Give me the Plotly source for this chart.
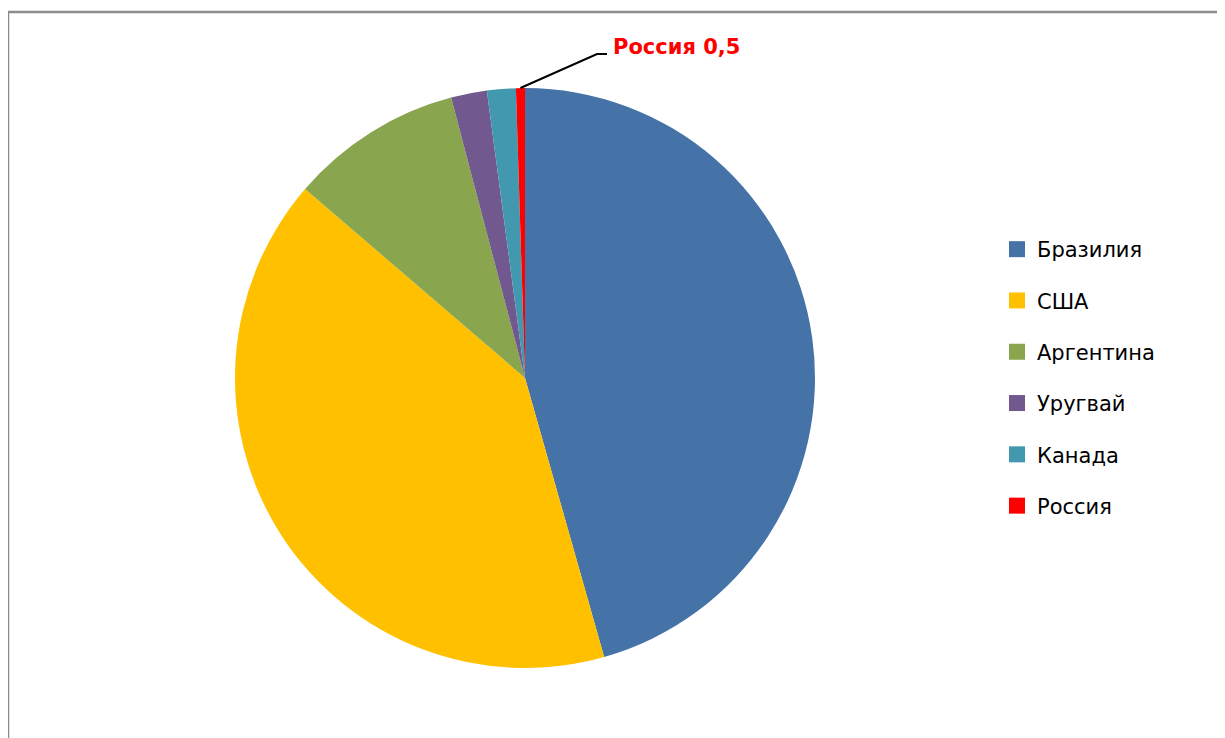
import math
import plotly.graph_objects as go

countries = ["Бразилия", "США", "Аргентина", "Уругвай", "Канада", "Россия"]
shares = [45.6, 40.7, 9.6, 2.0, 1.6, 0.5]
colors = ["#4572A7", "#FFC000", "#89A54E", "#71588F", "#4198AF", "#FF0000"]
label_text = "Россия 0,5"

W, H = 1225, 738
OFF = 8  # page body margin offset
cx, cy, r = 525 - OFF, 378 - OFF, 290

fig = go.Figure()
fig.add_trace(go.Pie(
    labels=countries, values=shares, sort=False, direction="clockwise", rotation=0,
    marker=dict(colors=colors, line=dict(width=0)),
    textinfo="none", hoverinfo="label+value", showlegend=False,
    domain=dict(x=[(cx - r) / W, (cx + r) / W], y=[1 - (cy + r) / H, 1 - (cy - r) / H]),
))

# legend entries
for i, (c, col) in enumerate(zip(countries, colors)):
    fig.add_trace(go.Scatter(
        x=[None], y=[None], mode="markers", name=c, legendgroup=str(i),
        marker=dict(symbol="square", size=16, color=col), showlegend=True,
    ))

# leader line for Russia
total = sum(shares)
cum = sum(shares[:-1])
theta = math.radians((cum + shares[-1] / 2) / total * 360)
px0 = cx + r * math.sin(theta)
py0 = cy - r * math.cos(theta)
pts = [(px0, py0), (597 - OFF, 54 - OFF), (607 - OFF, 54 - OFF)]
path = "M " + " L ".join(f"{x / W},{1 - y / H}" for x, y in pts)
shapes = [
    dict(type="path", path=path, xref="paper", yref="paper", line=dict(color="black", width=2)),
    dict(type="rect", xref="paper", yref="paper", x0=(7 - OFF + 1) / W, x1=1.05, y0=-0.05,
         y1=1 - (11 - OFF + 1) / H,
         line=dict(color="#8C8C8C", width=2.5), fillcolor="rgba(0,0,0,0)"),
]

fig.update_layout(
    width=W, height=H, margin=dict(l=0, r=0, t=0, b=0),
    paper_bgcolor="white", plot_bgcolor="white",
    xaxis=dict(visible=False), yaxis=dict(visible=False),
    font=dict(family="DejaVu Sans, sans-serif", color="black"),
    legend=dict(x=(1037 - OFF - 40) / W, xanchor="left", y=1 - (249 - OFF - 20) / H, yanchor="top",
                font=dict(size=21, family="DejaVu Sans, sans-serif"), tracegroupgap=21,
                itemclick=False, bgcolor="rgba(0,0,0,0)"),
    shapes=shapes,
    annotations=[dict(text=f"<b>{label_text}</b>", x=(611 - OFF) / W, y=1 - (47 - OFF) / H,
                      xref="paper", yref="paper",
                      xanchor="left", yanchor="middle", showarrow=False,
                      font=dict(size=21, color="#FF0000", family="DejaVu Sans, sans-serif"))],
)

fig.write_html("out.html")
